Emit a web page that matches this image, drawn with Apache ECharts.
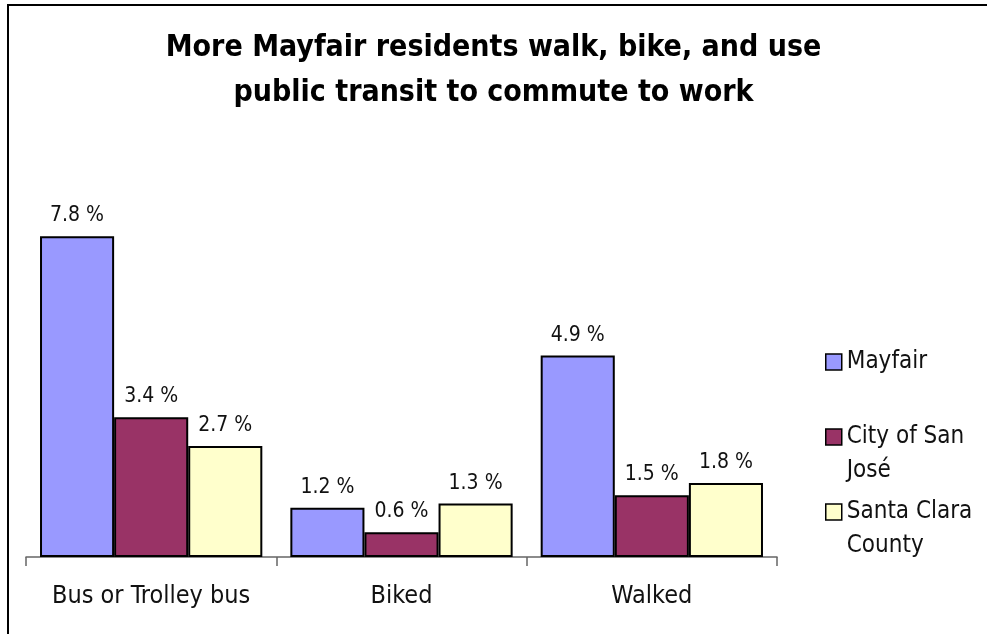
<!DOCTYPE html>
<html>
<head>
<meta charset="utf-8">
<script src="https://cdn.jsdelivr.net/npm/echarts@6/dist/echarts.min.js"></script>
<style>
  html, body { margin: 0; padding: 0; background: #fff; }
  #chart { width: 987px; height: 634px; }
</style>
</head>
<body>
<div id="chart"></div>
<script>
// chart data
var categories = ['Bus or Trolley bus', 'Biked', 'Walked'];
var mayfair = [7.8, 1.2, 4.9];
var sanJose = [3.4, 0.6, 1.5];
var santaClara = [2.7, 1.3, 1.8];
var seriesNames = ['Mayfair', 'City of San José', 'Santa Clara County'];
var legendLines = ['Mayfair', 'City of San\nJosé', 'Santa Clara\nCounty'];

var FONT = '"DejaVu Sans Condensed", "DejaVu Sans", sans-serif';
var colors = ['#9999ff', '#993366', '#ffffcc'];

var chart = echarts.init(document.getElementById('chart'));

function makeSeries(name, data, color) {
  return {
    name: name,
    type: 'bar',
    data: data,
    barGap: '0%',
    barCategoryGap: '11.2%',
    itemStyle: { color: color, borderColor: '#000', borderWidth: 2 },
    label: {
      show: true,
      position: 'top',
      distance: 10,
      formatter: '{c} %',
      color: '#111',
      fontFamily: FONT,
      fontSize: 21,
    },
  };
}

// one legend per series; two-line names get an empty first line so the
// (block-centred) icon lines up with the first line of text
var legendTops = [340, 381, 456];
var legends = seriesNames.map(function (name, i) {
  var twoLines = legendLines[i].indexOf('\n') >= 0;
  var text = twoLines ? ' \n' + legendLines[i] : legendLines[i];
  return {
    orient: 'vertical',
    left: 820,
    top: legendTops[i],
    itemWidth: 16,
    itemHeight: 16,
    icon: 'rect',
    selectedMode: false,
    data: [{
      name: name,
      itemStyle: { borderColor: '#000', borderWidth: 1.5 },
    }],
    formatter: function () { return text; },
    textStyle: {
      fontFamily: FONT,
      fontSize: 24,
      lineHeight: 34,
      color: '#111',
    },
  };
});

var option = {
  backgroundColor: '#fff',
  animation: false,
  color: colors,
  title: {
    text: 'More Mayfair residents walk, bike, and use\npublic transit to commute to work',
    left: 'center',
    top: 21,
    textStyle: {
      fontFamily: FONT,
      fontSize: 30,
      fontWeight: 'bold',
      lineHeight: 45,
      color: '#000',
    },
  },
  graphic: [{
    type: 'rect',
    shape: { x: 8, y: 5, width: 990, height: 640 },
    style: { fill: 'none', stroke: '#000', lineWidth: 2 },
    silent: true,
  }],
  legend: legends,
  grid: { left: 26, right: 210, top: 187, bottom: 77, containLabel: false },
  xAxis: {
    type: 'category',
    data: categories,
    axisLine: { lineStyle: { color: '#666', width: 1.5 } },
    axisTick: { show: true, interval: 0, length: 9, lineStyle: { color: '#666', width: 1.5 } },
    axisLabel: {
      interval: 0,
      margin: 27,
      fontFamily: FONT,
      fontSize: 25,
      color: '#111',
    },
  },
  yAxis: {
    type: 'value',
    min: 0,
    max: 9,
    show: false,
    splitLine: { show: false },
  },
  series: [
    makeSeries(seriesNames[0], mayfair, colors[0]),
    makeSeries(seriesNames[1], sanJose, colors[1]),
    makeSeries(seriesNames[2], santaClara, colors[2]),
  ],
};

chart.setOption(option);
</script>
</body>
</html>
